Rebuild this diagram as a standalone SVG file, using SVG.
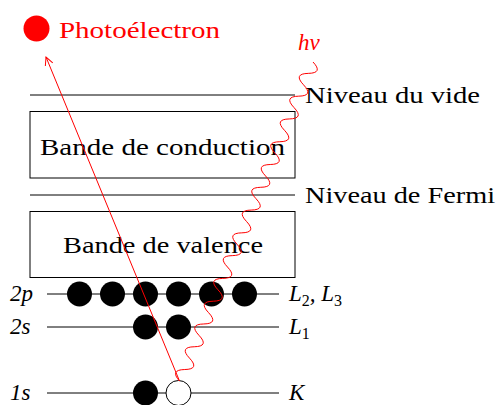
<svg xmlns="http://www.w3.org/2000/svg" width="496" height="405" viewBox="0 0 496 405">
<style>
text{font-family:"Liberation Serif","Times New Roman",Times,"DejaVu Serif","Noto Serif",serif;font-size:23px;fill:#000}
.m{font-style:italic}
.red{fill:#ff0000}
.lvl{stroke:#000;stroke-width:1;fill:none}
.box{stroke:#000;stroke-width:1;fill:#fff}
.e{fill:#000}
.h{fill:#fff;stroke:#000;stroke-width:1}
.sub{font-size:16px;font-style:normal}
</style>
<defs>
<marker id="arr" markerWidth="12" markerHeight="12" refX="10" refY="6" orient="auto" markerUnits="userSpaceOnUse">
<path d="M2,2 L10,6 L2,10" fill="none" stroke="#ff0000" stroke-width="1"/>
</marker>
</defs>
<g id="photoelectron">
<circle cx="36.5" cy="28.5" r="13" fill="#ff0000"/>
<text x="59" y="38" class="red" textLength="161" lengthAdjust="spacingAndGlyphs">Photoélectron</text>
</g>
<g id="vide">
<line class="lvl" x1="30" y1="95" x2="295" y2="95"/>
<text x="305" y="103" textLength="175" lengthAdjust="spacingAndGlyphs">Niveau du vide</text>
</g>
<g id="conduction">
<rect class="box" x="30" y="111.5" width="265" height="66.5"/>
<text x="40" y="155" textLength="245" lengthAdjust="spacingAndGlyphs">Bande de conduction</text>
</g>
<g id="fermi">
<line class="lvl" x1="30" y1="195" x2="295" y2="195"/>
<text x="305" y="203" textLength="190" lengthAdjust="spacingAndGlyphs">Niveau de Fermi</text>
</g>
<g id="valence">
<rect class="box" x="30" y="211.5" width="265" height="66"/>
<text x="63" y="253" textLength="200" lengthAdjust="spacingAndGlyphs">Bande de valence</text>
</g>
<g id="level-2p">
<line class="lvl" x1="47" y1="294" x2="279" y2="294"/>
<text x="10" y="301" class="m">2p</text>
<circle class="e" cx="79.5" cy="294" r="12.5"/>
<circle class="e" cx="112.5" cy="294" r="12.5"/>
<circle class="e" cx="145.5" cy="294" r="12.5"/>
<circle class="e" cx="178.5" cy="294" r="12.5"/>
<circle class="e" cx="211.5" cy="294" r="12.5"/>
<circle class="e" cx="244.5" cy="294" r="12.5"/>
<text x="289" y="301" class="m">L<tspan class="sub" dy="5">2</tspan><tspan dy="-5">, L</tspan><tspan class="sub" dy="5">3</tspan></text>
</g>
<g id="level-2s">
<line class="lvl" x1="47" y1="327" x2="279" y2="327"/>
<text x="10" y="334" class="m">2s</text>
<circle class="e" cx="145.5" cy="327" r="12.5"/>
<circle class="e" cx="178.5" cy="327" r="12.5"/>
<text x="289" y="334" class="m">L<tspan class="sub" dy="5">1</tspan></text>
</g>
<g id="level-1s">
<line class="lvl" x1="47" y1="393" x2="279" y2="393"/>
<text x="10" y="400" class="m">1s</text>
<circle class="e" cx="145.5" cy="393" r="12.5"/>
<circle class="h" cx="178.5" cy="393" r="12.5"/>
<text x="289" y="400" class="m">K</text>
</g>
<g id="connectors">
<line x1="179.5" y1="381" x2="46" y2="57" stroke="#ff0000" stroke-width="1" marker-end="url(#arr)"/>
<path fill="none" stroke="#ff0000" stroke-width="1" d="M313,62 Q323.5,73.1 308.25,73.39 T303.5,84.78 T298.75,96.17 T294,107.56 T289.25,118.95 T284.5,130.34 T279.75,141.73 T275,153.12 T270.25,164.51 T265.5,175.9 T260.75,187.29 T256,198.68 T251.25,210.07 T246.5,221.46 T241.75,232.85 T237,244.24 T232.25,255.63 T227.5,267.02 T222.75,278.41 T218,289.8 T213.25,301.19 T208.5,312.58 T203.75,323.97 T199,335.36 T194.25,346.75 T189.5,358.14 T184.75,369.53 T179.5,381"/>
<text x="298" y="50" class="m red">hν</text>
</g>
</svg>
